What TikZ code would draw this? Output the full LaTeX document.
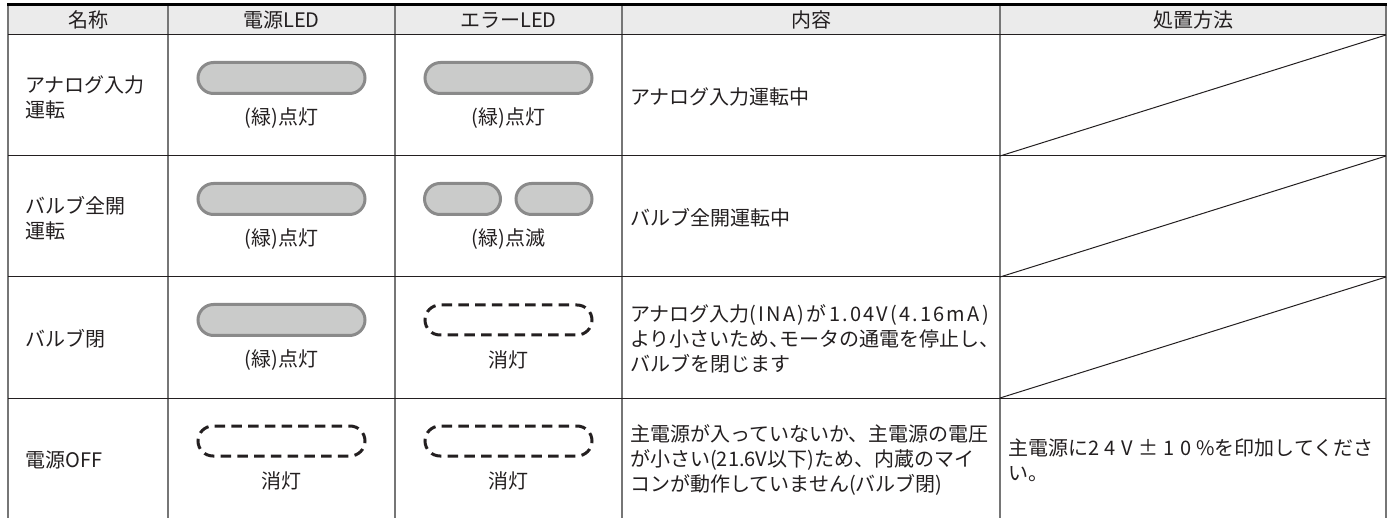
\documentclass[tikz,border=0pt]{standalone}
\usepackage{fontspec}
\setmainfont{Noto Sans CJK JP}
\usepackage{tikz}
\usetikzlibrary{shapes.misc}
\usetikzlibrary{positioning}
\definecolor{ink}{HTML}{231F20}
\definecolor{rulegray}{HTML}{767676}
\definecolor{lampedge}{HTML}{8A8A8A}
\definecolor{lampfill}{HTML}{CACBCA}
\definecolor{headfill}{HTML}{EBEBEB}
\newcommand{\spread}[2]{{\addfontfeatures{LetterSpace=#1}#2}}
\newcommand{\halfcomma}{\makebox[10pt][l]{、}}
\tikzstyle{lamp} = [draw=lampedge, fill=lampfill, line width=3pt, rounded rectangle,
    minimum width=167pt, minimum height=31pt, inner sep=0pt]
\tikzstyle{halflamp} = [lamp, minimum width=76pt]
\tikzstyle{lampoff} = [draw=ink, line width=3pt, dash pattern=on 10.5pt off 6.24pt, rounded rectangle,
    minimum width=167pt, minimum height=30pt, inner sep=0pt]
\tikzstyle{head} = [inner sep=0pt]
\tikzstyle{lamptext} = [inner sep=0pt]
\tikzstyle{rowname} = [anchor=west, align=left, inner sep=0pt]
\tikzstyle{detail} = [anchor=west, align=left, inner sep=0pt]
\tikzstyle{colrule} = [draw=rulegray, line width=1.6pt]
\tikzstyle{rowrule} = [draw=ink, line width=1pt]

\begin{document}
\begin{tikzpicture}[x=1pt, y=-1pt, node distance=40pt,
    every node/.style={font=\fontsize{20}{25}\selectfont, text=ink}]
    \useasboundingbox (0,0) rectangle (1394,518);

    % header
    \fill[headfill] (8,5) rectangle (1386,35);
    \node[head] (hname) at (88,20) {名称};
    \node[head] (hpower) at (281.5,20) {電源LED};
    \node[head] (herror) at (508.5,20) {エラーLED};
    \node[head] (hdetail) at (811,20) {内容};
    \node[head] (hremedy) at (1193,20) {処置方法};

    \foreach \x in {8,168,395,622,1000,1386}
        \draw[colrule] (\x,5) -- (\x,518);
    \foreach \y in {35,156,277,398}
        \draw[rowrule] (8,\y) -- (1386,\y);
    \draw[line width=3pt] (7,4.5) -- (1387,4.5);
    \foreach \y in {35,156,277}
        \draw[rowrule] (1000,\y+121) -- (1386,\y);

    \node[rowname] (name1) at (25,97) {アナログ入力\\運転};
    \node[lamp] (power1) at (281.5,78) {};
    \node[lamptext, below of=power1] (powertext1) {(緑)点灯};
    \node[lamp] (error1) at (508.5,78) {};
    \node[lamptext, below of=error1] (errortext1) {(緑)点灯};
    \node[detail] (detail1) at (630,97) {アナログ入力運転中};

    \node[rowname] (name2) at (25,218) {バルブ全開\\運転};
    \node[lamp] (power2) at (281.5,199) {};
    \node[lamptext, below of=power2] (powertext2) {(緑)点灯};
    \node[halflamp] (error2a) at (462.5,199) {};
    \node[halflamp] (error2b) at (554,199) {};
    \node[lamptext] (errortext2) at (508.5,239) {(緑)点滅};
    \node[detail] (detail2) at (630,218) {バルブ全開運転中};

    \node[rowname] (name3) at (25,339) {バルブ閉};
    \node[lamp] (power3) at (281.5,320) {};
    \node[lamptext, below of=power3] (powertext3) {(緑)点灯};
    \node[lampoff] (error3) at (508.5,320) {};
    \node[lamptext, below of=error3] (errortext3) {消灯};
    \node[detail] (detail3) at (630,339) {アナログ入力\spread{11}{(INA)が1.04V(4.16mA)}\\より小さいため\halfcomma モータの通電を停止し、\\バルブを閉じます};

    \node[rowname] (name4) at (25,460) {電源OFF};
    \node[lampoff] (power4) at (281.5,441) {};
    \node[lamptext, below of=power4] (powertext4) {消灯};
    \node[lampoff] (error4) at (508.5,441) {};
    \node[lamptext, below of=error4] (errortext4) {消灯};
    \node[detail] (detail4) at (630,460) {主電源が入っていないか、主電源の電圧\\が小さい(21.6V以下)ため、内蔵のマイ\\コンが動作していません(バルブ閉)};
    \node[detail] (remedy4) at (1008,460) {主電源に\spread{27}{24V±10\%}を印加してくださ\\い。};
\end{tikzpicture}
\end{document}
